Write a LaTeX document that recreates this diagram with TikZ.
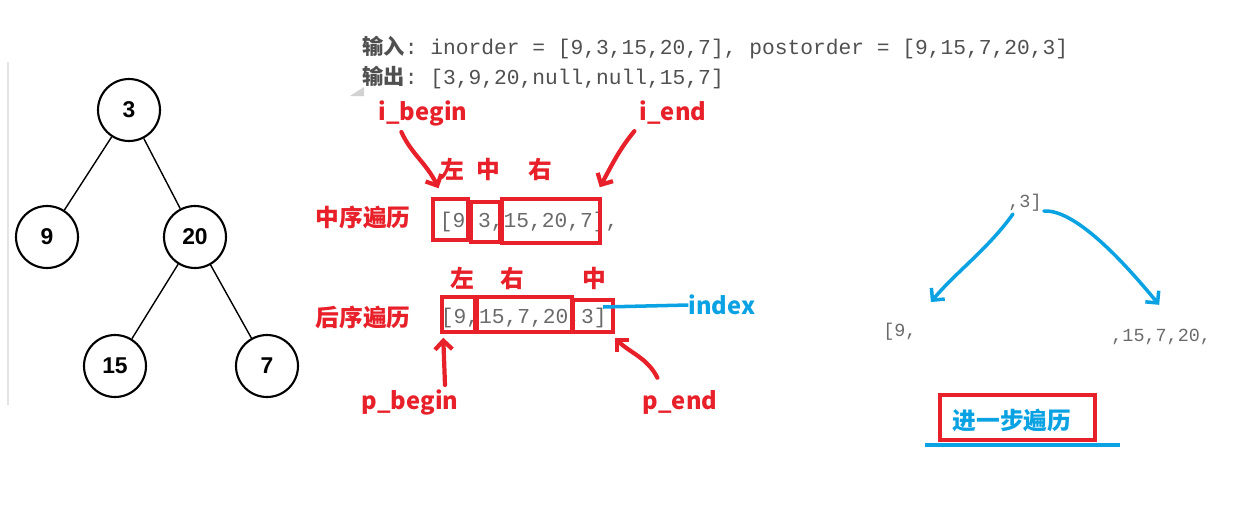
\documentclass[tikz,border=0pt]{standalone}
\usepackage{fontspec}
\setmainfont{Liberation Sans}
\setmonofont{Liberation Mono}
\newfontfamily\cjk{Noto Sans CJK SC}
\usepackage{xcolor}
\usetikzlibrary{positioning, arrows.meta, calc}
\definecolor{penred}{HTML}{E8202A}
\definecolor{penblue}{HTML}{0AA2E2}
\definecolor{codegray}{HTML}{6A6A6A}
\definecolor{headgray}{HTML}{505050}

\begin{document}
\begin{tikzpicture}[
  x=0.02cm, y=-0.02cm,
  treenode/.style={
    draw,
    circle,
    line width=1.2pt,
    minimum size=1.24cm,
    inner sep=0pt,
    font=\bfseries\fontsize{13}{15}\selectfont
  },
  branch/.style={line width=0.8pt},
  code/.style={anchor=west, inner sep=0pt, text=codegray, font=\ttfamily\fontsize{12.1}{14}\selectfont},
  smallcode/.style={code, font=\ttfamily\fontsize{10.5}{12}\selectfont},
  redlabel/.style={inner sep=0pt, text=penred, font=\cjk\bfseries\fontsize{13.5}{16}\selectfont},
  bluelabel/.style={inner sep=0pt, text=penblue, font=\cjk\bfseries\fontsize{13.5}{16}\selectfont},
  redbox/.style={draw=penred, line width=2pt, inner sep=0pt},
  redpen/.style={draw=penred, line width=2.4pt, line cap=round, line join=round, -{Straight Barb[angle=90:7pt]}},
  bluepen/.style={draw=penblue, line width=2pt, line cap=round, line join=round, -{Straight Barb[angle=90:7pt]}}
]
\useasboundingbox (0,0) rectangle (1258,515);

\draw[gray!22, line width=1.2pt] (8,62) -- (8,405);
\fill[gray!35] (350,96) -- (364,87) -- (364,96) -- cycle;

\node[treenode] (n3) at (129,110) {3};
\node[treenode] (n9) at (47,237) {9};
\node[treenode] (n20) at (195,237) {20};
\node[treenode] (n15) at (115,366) {15};
\node[treenode] (n7) at (267,366) {7};
\draw[branch] (n3) -- (n9);
\draw[branch] (n3) -- (n20);
\draw[branch] (n20) -- (n15);
\draw[branch] (n20) -- (n7);

\node[code, text=headgray] (input) at (362,48)
  {{\cjk\bfseries 输入}: inorder = [9,3,15,20,7], postorder = [9,15,7,20,3]};
\node[code, text=headgray] (output) at (362,78)
  {{\cjk\bfseries 输出}: [3,9,20,null,null,15,7]};

\node[redlabel] (ibegin) at (423,113) {i\_begin};
\node[redlabel] (iend) at (673,113) {i\_end};
\node[redlabel] (inL) at (452,169) {左};
\node[redlabel] (inM) at (488,169) {中};
\node[redlabel] (inR) at (540,169) {右};
\node[redlabel] (inname) at (363,217) {中序遍历};
\node[code] (inarr) at (439.5,222) {[9,3,15,20,7],};
\node[redbox, minimum width=0.70cm, minimum height=0.82cm] (b1) at (450.5,219.5) {};
\node[redbox, minimum width=0.58cm, minimum height=0.80cm] (b2) at (485.5,222) {};
\node[redbox, minimum width=1.96cm, minimum height=0.88cm] (b3) at (551,221) {};

\node[redlabel] (poL) at (462,278) {左};
\node[redlabel] (poR) at (512,278) {右};
\node[redlabel] (poM) at (594,278) {中};
\node[redlabel] (poname) at (363,317) {后序遍历};
\node[code] (poarr) at (440.5,318) {[9,15,7,20,3]};
\node[redbox, minimum width=0.66cm, minimum height=0.70cm] (c1) at (458.5,314.5) {};
\node[redbox, minimum width=1.90cm, minimum height=0.70cm] (c2) at (524.5,314.5) {};
\node[redbox, minimum width=0.80cm, minimum height=0.64cm] (c3) at (593,316) {};
\node[bluelabel] (index) at (722,305) {index};
\node[redlabel] (pbegin) at (410,402) {p\_begin};
\node[redlabel] (pend) at (680,402) {p\_end};

\coordinate (ibtip) at ($(b1.north)+(-12,-9)$);
\coordinate (ietip) at ($(b3.north east)+(-2,-10)$);
\coordinate (pbtip) at ($(c1.south west)+(3,4)$);
\coordinate (petip) at ($(c3.south east)+(0,4)$);
\draw[redpen] ($(ibegin.south west)+(23,6)$) .. controls +(10,22) and +(-12,-25) .. (ibtip);
\draw[redpen] ($(iend.south west)+(-5,6)$) .. controls +(-15,18) and +(12,-22) .. (ietip);
\draw[redpen] ($(pbegin.north)+(35,-4)$) -- (pbtip);
\draw[redpen] ($(pend.north west)+(15,-12)$) .. controls +(-10,-20) and +(15,15) .. (petip);
\draw[penblue, line width=2pt] ($(c3.center)+(10,-9)$) -- (index.west);

\node[smallcode] (root) at (1008,203) {,3]};
\node[smallcode] (lsub) at (883,332) {[9,};
\node[smallcode] (rsub) at (1111,337) {,15,7,20,};
\coordinate (ltip) at ($(lsub.north east)+(14,-21)$);
\coordinate (rtip) at ($(rsub.north)+(-2,-24)$);
\draw[bluepen] ($(root.south west)+(5,2)$) .. controls +(-25,35) and +(25,-30) .. (ltip);
\draw[bluepen] ($(root.east)+(2,8)$) .. controls +(35,-2) and +(-25,-30) .. (rtip);

\node[redbox, minimum width=3.10cm, minimum height=0.90cm] (next) at (1017.5,417.5) {};
\node[bluelabel] (nexttext) at (1012,420) {进一步遍历};
\draw[penblue, line width=2pt] ($(next.south west)+(-13,3)$) -- ($(next.south east)+(23,3)$);
\end{tikzpicture}
\end{document}
